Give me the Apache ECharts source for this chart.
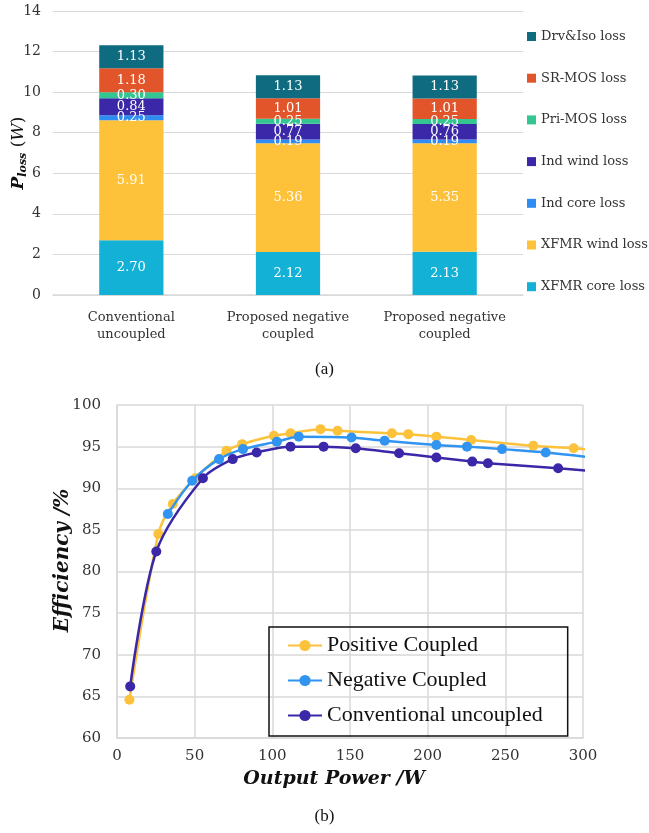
<!DOCTYPE html>
<html><head><meta charset="utf-8">
<script src="https://cdn.jsdelivr.net/npm/echarts@6/dist/echarts.min.js"></script>
<style>html,body{margin:0;padding:0;background:#fff}#c{width:649px;height:833px}</style>
</head><body><div id="c"></div>
<script>
// ---- (a) stacked loss breakdown ----
const categories = ['Conventional\nuncoupled', 'Proposed negative\ncoupled', 'Proposed negative\ncoupled'];
const yTicksA = [0, 2, 4, 6, 8, 10, 12, 14];
const xfmrCore = [2.70, 2.12, 2.13];
const xfmrWind = [5.91, 5.36, 5.35];
const indCore  = [0.25, 0.19, 0.19];
const indWind  = [0.84, 0.77, 0.76];
const priMos   = [0.30, 0.25, 0.25];
const srMos    = [1.18, 1.01, 1.01];
const drvIso   = [1.13, 1.13, 1.13];
const lossNames = ['XFMR core loss', 'XFMR wind loss', 'Ind core loss', 'Ind wind loss', 'Pri-MOS loss', 'SR-MOS loss', 'Drv&Iso loss'];
const lossColors = ['#13B1D6', '#FDC13A', '#2E8CF2', '#3B28A9', '#33C691', '#E2552A', '#0F6B7F'];
const lossValues = [xfmrCore, xfmrWind, indCore, indWind, priMos, srMos, drvIso];

// ---- (b) efficiency curves: [power W, efficiency %] ----
const positiveCoupled = [[8.0,64.6],[26.6,84.5],[35.9,88.1],[50.5,91.2],[70.5,94.5],[80.6,95.3],[101,96.3],[111.7,96.6],[131,97.1],[142,96.9],[177,96.6],[187.5,96.5],[205.6,96.2],[228,95.8],[268,95.1],[294,94.8],[320,94.4]];
const negativeCoupled = [[32.7,86.9],[48.4,90.9],[65.7,93.5],[81.1,94.7],[102.9,95.6],[117,96.2],[151,96.1],[172.3,95.7],[205.6,95.2],[225.3,95.0],[247.9,94.7],[276,94.3],[320,93.4]];
const conventionalUncoupled = [[8.5,66.2],[25.3,82.4],[55.3,91.2],[74.5,93.5],[89.9,94.3],[111.7,95.0],[133,95.0],[153.7,94.8],[181.6,94.2],[205.6,93.7],[228.7,93.2],[238.8,93.0],[284,92.4],[320,91.8]];
const effNames = ['Positive Coupled', 'Negative Coupled', 'Conventional uncoupled'];
const effColors = ['#FCC23C', '#3094F0', '#3B28A8'];
const effData = [positiveCoupled, negativeCoupled, conventionalUncoupled];

const SERIF = 'DejaVu Serif';
const chart = echarts.init(document.getElementById('c'), null, {renderer: 'canvas'});

const series = [];
lossNames.forEach((n, i) => {
  series.push({
    name: n, type: 'bar', stack: 'loss', xAxisIndex: 0, yAxisIndex: 0,
    barCategoryGap: '59%',
    data: lossValues[i],
    itemStyle: {color: lossColors[i]},
    label: {show: true, position: 'inside', color: '#fff', fontFamily: SERIF, fontSize: 13,
      formatter: p => p.value.toFixed(2)},
    emphasis: {disabled: true}
  });
});
effNames.forEach((n, i) => {
  series.push({
    name: n, type: 'line', xAxisIndex: 1, yAxisIndex: 1,
    data: effData[i], smooth: 0.3, clip: true,
    symbol: 'circle', symbolSize: 10, showSymbol: true,
    lineStyle: {color: effColors[i], width: 2.5},
    itemStyle: {color: effColors[i]},
    z: 3 + i
  });
});

chart.setOption({
  animation: false,
  backgroundColor: '#fff',
  grid: [
    {left: 53, right: 126, top: 11, bottom: 538, containLabel: false, outerBoundsMode: 'none'},
    {left: 117, right: 66, top: 405, bottom: 95, containLabel: false, outerBoundsMode: 'none'}
  ],
  xAxis: [
    {type: 'category', gridIndex: 0, data: categories,
     axisLine: {lineStyle: {color: '#d9d9d9', width: 1.5}}, axisTick: {show: false},
     axisLabel: {interval: 0, color: '#333', fontFamily: SERIF, fontSize: 13, margin: 14, lineHeight: 17}},
    {type: 'value', gridIndex: 1, min: 0, max: 300, interval: 50,
     axisLine: {show: true, lineStyle: {color: '#d9d9d9', width: 1.5}}, axisTick: {show: false},
     splitLine: {show: true, lineStyle: {color: '#d9d9d9', width: 1.5}},
     axisLabel: {color: '#333', fontFamily: SERIF, fontSize: 15, margin: 11},
     name: 'Output Power /W', nameLocation: 'middle', nameGap: 32, nameMoveOverlap: false,
     nameTextStyle: {fontFamily: SERIF, fontWeight: 'bold', fontStyle: 'italic', fontSize: 19, color: '#111', padding: [0, 32, 0, 0]}}
  ],
  yAxis: [
    {type: 'value', gridIndex: 0, min: 0, max: 14, interval: 2,
     axisLine: {show: false}, axisTick: {show: false},
     splitLine: {lineStyle: {color: '#d9d9d9', width: 1.2}},
     axisLabel: {color: '#333', fontFamily: SERIF, fontSize: 14, margin: 12},
     name: '{p|P}{s|loss}{n| (}{w|W}{n|)}', nameLocation: 'middle', nameGap: 24, nameMoveOverlap: false,
     nameTextStyle: {rich: {
       p: {fontFamily: SERIF, fontWeight: 'bold', fontStyle: 'italic', fontSize: 17, color: '#111'},
       s: {fontFamily: SERIF, fontWeight: 'bold', fontStyle: 'italic', fontSize: 11, color: '#111', padding: [9, 0, 0, 0]},
       n: {fontFamily: SERIF, fontSize: 17, color: '#111'},
       w: {fontFamily: SERIF, fontStyle: 'italic', fontSize: 17, color: '#111'}
     }}},
    {type: 'value', gridIndex: 1, min: 60, max: 100, interval: 5,
     axisLine: {show: true, lineStyle: {color: '#d9d9d9', width: 1.5}}, axisTick: {show: false},
     splitLine: {lineStyle: {color: '#d9d9d9', width: 1.5}},
     axisLabel: {color: '#333', fontFamily: SERIF, fontSize: 15, margin: 16},
     name: 'Efficiency /%', nameLocation: 'middle', nameGap: 44, nameMoveOverlap: false,
     nameTextStyle: {fontFamily: SERIF, fontWeight: 'bold', fontStyle: 'italic', fontSize: 20, color: '#111', padding: [0, 0, 0, 22]}}
  ],
  legend: [
    {data: lossNames.slice().reverse(), orient: 'vertical', left: 522, top: 24,
     icon: 'rect', itemWidth: 9, itemHeight: 9, itemGap: 26.7,
     textStyle: {fontFamily: SERIF, fontSize: 13, color: '#333', lineHeight: 15}},
    {data: effNames, orient: 'vertical', left: 269, top: 627,
     borderColor: '#111', borderWidth: 1.5, padding: [7, 25, 9, 18],
     itemWidth: 34, itemHeight: 14, itemGap: 12,
     textStyle: {fontFamily: 'Liberation Serif', fontSize: 22, color: '#111', lineHeight: 23}}
  ],
  graphic: [
    {type: 'text', left: 'center', top: 361, style: {text: '(a)', fontFamily: 'Liberation Serif', fontSize: 17, fill: '#111'}},
    {type: 'text', left: 'center', top: 808, style: {text: '(b)', fontFamily: 'Liberation Serif', fontSize: 17, fill: '#111'}}
  ],
  series: series
});
</script></body></html>
